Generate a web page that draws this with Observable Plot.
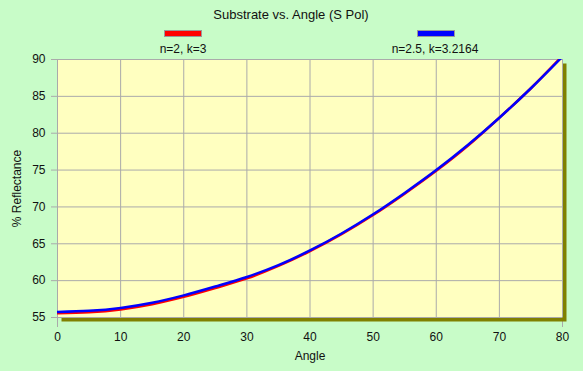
<!DOCTYPE html>
<html>
<head>
<meta charset="utf-8">
<script src="https://cdn.jsdelivr.net/npm/d3@7"></script>
<script src="https://cdn.jsdelivr.net/npm/@observablehq/plot@0.6"></script>
<style>
  html, body { margin: 0; padding: 0; background: #c8fcc8; }
  #wrap { position: relative; width: 583px; height: 371px; font-family: "Liberation Sans", Arial, sans-serif; color: #111; }
  .lbl { position: absolute; transform: translate(-50%, -50%); white-space: nowrap; }
  .sw { position: absolute; width: 36px; height: 5px; border: 1px solid #999; }
  #chart { position: absolute; left: 0; top: 0; }
</style>
</head>
<body>
<div id="wrap">
  <div id="chart"></div>
  <div class="lbl" style="left:291px; top:14px; font-size:13px;">Substrate vs. Angle (S Pol)</div>
  <div class="sw" style="left:164px; top:30px; background:#ff0000;"></div>
  <div class="lbl" style="left:183px; top:49px; font-size:12px;">n=2, k=3</div>
  <div class="sw" style="left:417px; top:30px; background:#0000ff;"></div>
  <div class="lbl" style="left:435px; top:49px; font-size:12px;">n=2.5, k=3.2164</div>
</div>
<script>
const angles = [0, 5, 10, 15, 20, 25, 30, 35, 40, 45, 50, 55, 60, 65, 70, 75, 80];
const series1Name = "n=2, k=3";
const series1 = [55.56, 55.7, 56.1, 56.8, 57.8, 59.0, 60.3, 62.0, 64.0, 66.3, 68.9, 71.8, 74.9, 78.3, 82.1, 86.1, 90.5];
const series2Name = "n=2.5, k=3.2164";
const series2 = [55.75, 55.9, 56.3, 57.0, 58.0, 59.2, 60.5, 62.1, 64.1, 66.4, 69.0, 71.9, 75.0, 78.4, 82.1, 86.1, 90.4];
const xTicks = [0, 10, 20, 30, 40, 50, 60, 70, 80];
const yTicks = [55, 60, 65, 70, 75, 80, 85, 90];

const rows1 = angles.map((a, i) => ({angle: a, r: series1[i]}));
const rows2 = angles.map((a, i) => ({angle: a, r: series2[i]}));

const chart = Plot.plot({
  width: 583,
  height: 371,
  marginLeft: 57,
  marginRight: 21,
  marginTop: 59,
  marginBottom: 54,
  style: {background: "transparent", fontFamily: "'Liberation Sans', Arial, sans-serif", fontSize: "12px", color: "#111"},
  x: {domain: [0, 80]},
  y: {domain: [55, 90]},
  marks: [
    Plot.axisX([xTicks[0], xTicks[xTicks.length - 1]], {stroke: "#aaaaaa", tickSize: 10, tickFormat: () => "", label: null}),
    Plot.frame({fill: "#808000", stroke: null, dx: 4, dy: 4}),
    Plot.frame({fill: "#ffffc0", stroke: null}),
    Plot.gridX(xTicks, {stroke: "#aaaaaa", strokeOpacity: 1}),
    Plot.gridY(yTicks, {stroke: "#aaaaaa", strokeOpacity: 1}),
    Plot.axisX(xTicks, {tickSize: 0, tickPadding: 15, fill: "#111", fontSize: 12, label: "Angle", labelAnchor: "center", labelOffset: 42, labelArrow: "none"}),
    Plot.axisY(yTicks, {stroke: "#aaaaaa", tickSize: 6, tickPadding: 6, fill: "#111", fontSize: 12, label: "% Reflectance", labelAnchor: "center", labelOffset: 45, labelArrow: "none"}),
    Plot.line(rows1, {x: "angle", y: "r", stroke: "#ff0000", strokeWidth: 2.5, curve: "monotone-x", clip: true}),
    Plot.line(rows2, {x: "angle", y: "r", stroke: "#0000ff", strokeWidth: 2.5, curve: "monotone-x", clip: true})
  ]
});
document.getElementById("chart").appendChild(chart);
</script>
</body>
</html>
